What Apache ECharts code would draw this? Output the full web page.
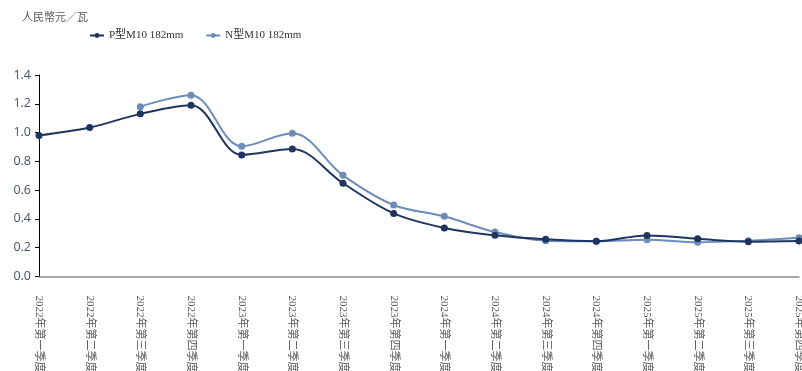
<!DOCTYPE html>
<html>
<head>
<meta charset="utf-8">
<script src="https://cdn.jsdelivr.net/npm/echarts@6/dist/echarts.min.js"></script>
<style>
html,body{margin:0;padding:0;background:#fff;}
#c{width:802px;height:371px;}
</style>
</head>
<body>
<div id="c"></div>
<script>
const categories = ['2022年第一季度','2022年第二季度','2022年第三季度','2022年第四季度',
  '2023年第一季度','2023年第二季度','2023年第三季度','2023年第四季度',
  '2024年第一季度','2024年第二季度','2024年第三季度','2024年第四季度',
  '2025年第一季度','2025年第二季度','2025年第三季度','2025年第四季度'];
const pType = [0.98, 1.035, 1.13, 1.19, 0.845, 0.885, 0.648, 0.438, 0.337, 0.286, 0.258, 0.245, 0.285, 0.262, 0.242, 0.247];
const nType = [null, null, 1.18, 1.26, 0.905, 0.995, 0.703, 0.497, 0.418, 0.309, 0.249, 0.245, 0.256, 0.238, 0.249, 0.27];
const yTicks = [0, 0.2, 0.4, 0.6, 0.8, 1.0, 1.2, 1.4];

const serif = '"Liberation Serif", "DejaVu Serif", "Noto Sans CJK TC", serif';
const chart = echarts.init(document.getElementById('c'));
chart.setOption({
  animation: false,
  title: {
    text: '人民幣元／瓦',
    left: 17, top: 8,
    textStyle: {fontFamily: serif, fontSize: 11, fontWeight: 'normal', color: '#595959'}
  },
  legend: {
    left: 84, top: 25,
    itemWidth: 14, itemHeight: 6, itemGap: 22,
    textStyle: {fontFamily: serif, fontSize: 11, color: '#333'},
    data: ['P型M10 182mm', 'N型M10 182mm']
  },
  grid: {left: 39, right: 3, top: 75, bottom: 94.5, containLabel: false, outerBoundsMode: 'none'},
  xAxis: {
    type: 'category',
    data: categories,
    boundaryGap: false,
    axisLine: {lineStyle: {color: '#8c8c8c', width: 1.5}},
    axisTick: {show: false},
    axisLabel: {rotate: -90, margin: 19, fontFamily: serif, fontSize: 11, color: '#595959', interval: 0}
  },
  yAxis: {
    type: 'value',
    min: 0, max: 1.4, interval: 0.2,
    axisLine: {show: true, lineStyle: {color: '#000', width: 1}},
    axisTick: {show: true, length: 4, lineStyle: {color: '#000'}},
    splitLine: {show: false},
    axisLabel: {
      fontFamily: '"Open Sans", "Noto Sans", sans-serif', fontSize: 12.5, color: '#44546a', margin: 8,
      formatter: v => v.toFixed(1)
    }
  },
  series: [
    {
      name: 'P型M10 182mm', type: 'line', data: pType, smooth: 0.35,
      symbol: 'circle', symbolSize: 7,
      itemStyle: {color: '#1f3560'},
      lineStyle: {color: '#1f3560', width: 2},
      z: 3
    },
    {
      name: 'N型M10 182mm', type: 'line', data: nType, smooth: 0.35,
      symbol: 'circle', symbolSize: 7,
      itemStyle: {color: '#6d8cba'},
      lineStyle: {color: '#6d8cba', width: 2},
      z: 2
    }
  ]
});
</script>
</body>
</html>
